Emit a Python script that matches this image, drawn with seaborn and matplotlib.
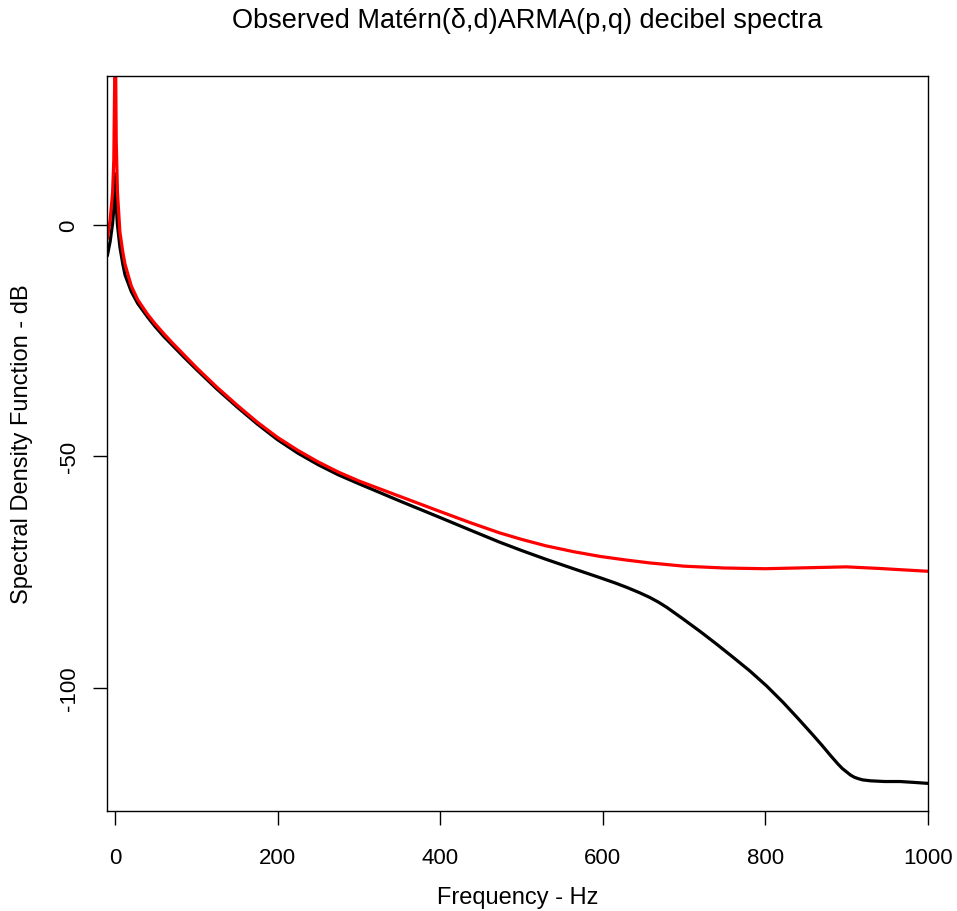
import matplotlib
matplotlib.use("Agg")
import matplotlib.pyplot as plt
import seaborn as sns
import pandas as pd

# Frequencies (Hz) and decibel values
freq_black = [-9.5, -6, -3, -1.5, -0.5, 0.3, 1.5, 3, 6, 9.5, 12.3, 20, 28, 40, 49, 60,
              70, 85, 100, 125, 150, 175, 200, 225, 250, 275, 300, 350, 400, 437, 473,
              500, 530, 565, 597, 615, 630, 645, 658, 669, 679, 699, 720, 740, 760,
              781, 802, 822, 840, 859, 870, 880, 890, 895, 900, 905, 910, 915, 920,
              930, 947, 966, 984, 1000]
db_black = [-6.7, -3.6, 0.3, 3.5, 7.5, 11.0, 4.0, 0.0, -4.8, -8.4, -10.8, -14.4, -17.0,
            -19.9, -21.9, -24.1, -25.9, -28.6, -31.2, -35.4, -39.3, -43.0, -46.4,
            -49.3, -51.8, -54.0, -55.9, -59.6, -63.2, -65.9, -68.5, -70.3, -72.2,
            -74.3, -76.2, -77.3, -78.3, -79.4, -80.45, -81.5, -82.6, -85.1, -87.8,
            -90.5, -93.3, -96.3, -99.6, -103.1, -106.5, -110.2, -112.4, -114.5,
            -116.5, -117.4, -118.1, -118.8, -119.3, -119.6, -119.85, -120.05,
            -120.2, -120.2, -120.4, -120.6]

freq_red = [-9.5, -6, -3, -1.5, -0.5, 0.3, 1.5, 3, 6, 9.5, 12.3, 20, 28, 40, 49, 60,
            70, 85, 100, 125, 150, 175, 200, 225, 250, 275, 300, 350, 400, 437, 473,
            500, 530, 565, 597, 630, 658, 700, 750, 800, 850, 900, 941, 970, 1000]
db_red = [-3.0, 1.0, 7.0, 14.0, 30.0, 45.0, 18.0, 7.0, -1.5, -5.8, -8.5, -13.2, -16.2,
          -19.3, -21.3, -23.5, -25.4, -28.1, -30.8, -35.0, -38.9, -42.6, -45.9,
          -48.7, -51.2, -53.4, -55.3, -58.6, -61.9, -64.3, -66.5, -67.9, -69.3,
          -70.6, -71.6, -72.4, -73.0, -73.7, -74.1, -74.25, -74.05, -73.85, -74.2,
          -74.5, -74.8]

x_ticks = [0, 200, 400, 600, 800, 1000]
y_ticks = [0, -50, -100]

sns.set_style("white")
plt.rcParams['font.family'] = ['Liberation Sans', 'DejaVu Sans']
plt.rcParams['text.color'] = 'black'
plt.rcParams['axes.labelcolor'] = 'black'
plt.rcParams['xtick.color'] = 'black'
plt.rcParams['ytick.color'] = 'black'

W, H = 957, 912
fig = plt.figure(figsize=(W / 100, H / 100), dpi=100)
left, right, top, bottom = 107.3, 927.7, 76.7, 811.7
ax = fig.add_axes([left / W, 1 - bottom / H, (right - left) / W, (bottom - top) / H])

df_b = pd.DataFrame({"f": freq_black, "db": db_black})
df_r = pd.DataFrame({"f": freq_red, "db": db_red})
sns.lineplot(data=df_b, x="f", y="db", ax=ax, color="black", lw=2.3,
             estimator=None, sort=False)
sns.lineplot(data=df_r, x="f", y="db", ax=ax, color="red", lw=2.3,
             estimator=None, sort=False)

ax.set_xlim(-9.5, 1000)
ax.set_ylim(-126.5, 32.2)
ax.set_xticks(x_ticks)
ax.set_xticklabels([str(t) for t in x_ticks])
ax.set_yticks(y_ticks)
ax.set_yticklabels([str(t) for t in y_ticks], rotation=90, va="center")
ax.tick_params(axis="both", direction="out", length=10, width=1.0,
               labelsize=16, colors="black", bottom=True, left=True)
ax.tick_params(axis="x", pad=16)
ax.tick_params(axis="y", pad=10)
for s in ax.spines.values():
    s.set_color("black")
    s.set_linewidth(1.0)
ax.set_xlabel("")
ax.set_ylabel("")

cx = (left + right) / 2 / W
cy = 1 - (top + bottom) / 2 / H
fig.text(cx, 1 - 898 / H, "Frequency - Hz", fontsize=17, ha="center", va="center")
fig.text(22 / W, cy, "Spectral Density Function - dB", fontsize=17, rotation=90,
         ha="center", va="center")
fig.text(527 / W, 1 - 21 / H, "Observed Matérn(δ,d)ARMA(p,q) decibel spectra",
         fontsize=19.5, ha="center", va="center")

fig.savefig("out.png", dpi=100)
